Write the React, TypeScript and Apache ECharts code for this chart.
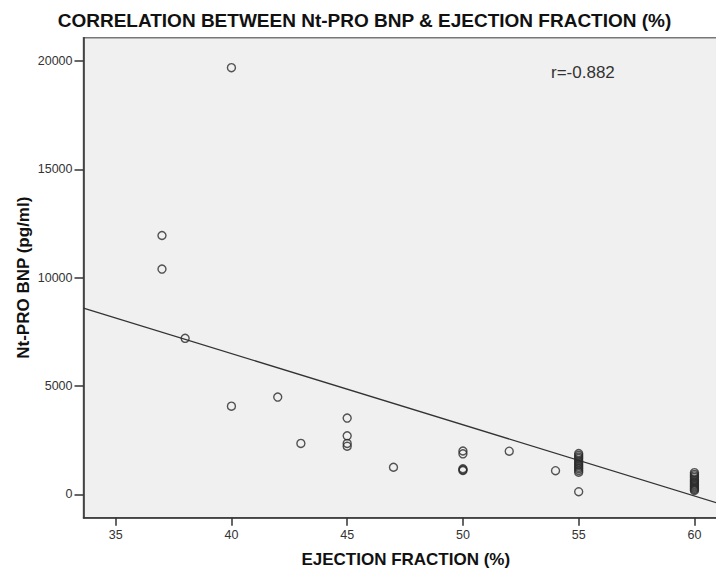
import React, { useEffect, useRef } from "react";
import * as echarts from "echarts";

// ---- data ----
const titleText = "CORRELATION BETWEEN Nt-PRO BNP & EJECTION FRACTION (%)";
const xAxisTitle = "EJECTION FRACTION (%)";
const yAxisTitle = "Nt-PRO BNP (pg/ml)";
const rLabel = "r=-0.882";

const xTicks = [35, 40, 45, 50, 55, 60];
const yTicks = [0, 5000, 10000, 15000, 20000];

// ejection fraction (%) of each patient
const efValues = [
  37, 37,
  38,
  40, 40,
  42,
  43,
  45, 45, 45, 45,
  47,
  50, 50, 50, 50, 50,
  52,
  54,
  55, 55, 55, 55, 55, 55, 55, 55, 55, 55, 55, 55, 55,
  60, 60, 60, 60, 60, 60, 60, 60, 60, 60, 60, 60, 60, 60,
];
// Nt-PRO BNP (pg/ml) of each patient
const bnpValues = [
  11950, 10400,
  7200,
  19700, 4070,
  4490,
  2350,
  3520, 2700, 2350, 2220,
  1250,
  2000, 1870, 1180, 1130, 1100,
  1990,
  1090,
  1880, 1800, 1720, 1650, 1560, 1480, 1400, 1330, 1250, 1180, 1100, 1020, 120,
  1000, 920, 850, 780, 700, 640, 580, 520, 460, 400, 340, 280, 230, 175,
];

// linear fit line (intercept, slope)
const fitIntercept = 19650;
const fitSlope = -328.8;

const xRange = [33.61, 61.45];
const yRange = [-1080, 21082];

export default function App() {
  const ref = useRef<HTMLDivElement>(null);
  useEffect(() => {
    if (!ref.current) return;
    const chart = echarts.init(ref.current, null, { renderer: "svg" });
    const points = efValues.map((x, i) => [x, bnpValues[i]]);
    const fitData = xRange.map((x) => [x, fitIntercept + fitSlope * x]);
    const font = "'Liberation Sans', Arial, sans-serif";
    chart.setOption({
      animation: false,
      backgroundColor: "#ffffff",
      textStyle: { fontFamily: font },
      grid: {
        left: 83.5,
        top: 37.7,
        bottom: 52.3,
        right: 0,
        outerBoundsMode: "none",
        containLabel: false,
        show: true,
        backgroundColor: "#F0F0F0",
        borderColor: "#777",
        borderWidth: 1.5,
      },
      xAxis: {
        type: "value",
        min: xRange[0],
        max: xRange[1],
        name: xAxisTitle,
        nameLocation: "middle",
        nameGap: 33,
        nameMoveOverlap: false,
        nameTextStyle: { fontFamily: font, fontWeight: "bold", fontSize: 17, color: "#111", lineHeight: 17 },
        axisLine: { show: true, onZero: false, lineStyle: { color: "#333", width: 1.5 } },
        axisTick: { show: true, customValues: xTicks, length: 8, lineStyle: { color: "#333", width: 1.5 } },
        axisLabel: { customValues: xTicks, margin: 11, fontSize: 12.5, color: "#333", fontFamily: font },
        splitLine: { show: false },
      },
      yAxis: {
        type: "value",
        min: yRange[0],
        max: yRange[1],
        name: yAxisTitle,
        nameLocation: "middle",
        nameRotate: 90,
        nameGap: 52,
        nameMoveOverlap: false,
        nameTextStyle: { fontFamily: font, fontWeight: "bold", fontSize: 17, color: "#111" },
        axisLine: { show: true, onZero: false, lineStyle: { color: "#333", width: 1.5 } },
        axisTick: { show: true, customValues: yTicks, length: 9, lineStyle: { color: "#333", width: 1.5 } },
        axisLabel: {
          customValues: yTicks,
          margin: 11,
          fontSize: 12.5,
          color: "#333",
          fontFamily: font,
          formatter: (v: number) => String(Math.round(v)),
        },
        splitLine: { show: false },
      },
      graphic: [
        {
          type: "text",
          x: 364.5,
          y: 20,
          style: {
            text: titleText,
            font: `bold 19px ${font}`,
            fill: "#111",
            textAlign: "center",
            textVerticalAlign: "middle",
          },
        },
        {
          type: "text",
          x: 551,
          y: 72,
          style: {
            text: rLabel,
            font: `17px ${font}`,
            fill: "#333",
            textAlign: "left",
            textVerticalAlign: "middle",
          },
        },
      ],
      series: [
        {
          type: "line",
          data: fitData,
          symbol: "none",
          silent: true,
          lineStyle: { color: "#333", width: 1.3 },
          z: 2,
        },
        {
          type: "scatter",
          data: points,
          symbol: "circle",
          symbolSize: 8,
          silent: true,
          itemStyle: { color: "rgba(0,0,0,0)", borderColor: "#2b2b2b", borderWidth: 1.4 },
          z: 3,
        },
      ],
    });
    return () => chart.dispose();
  }, []);
  return (
    <div style={{ position: "absolute", left: 0, top: 0, width: 716, height: 570, overflow: "hidden" }}>
      <div ref={ref} style={{ width: 728, height: 570 }} />
    </div>
  );
}
